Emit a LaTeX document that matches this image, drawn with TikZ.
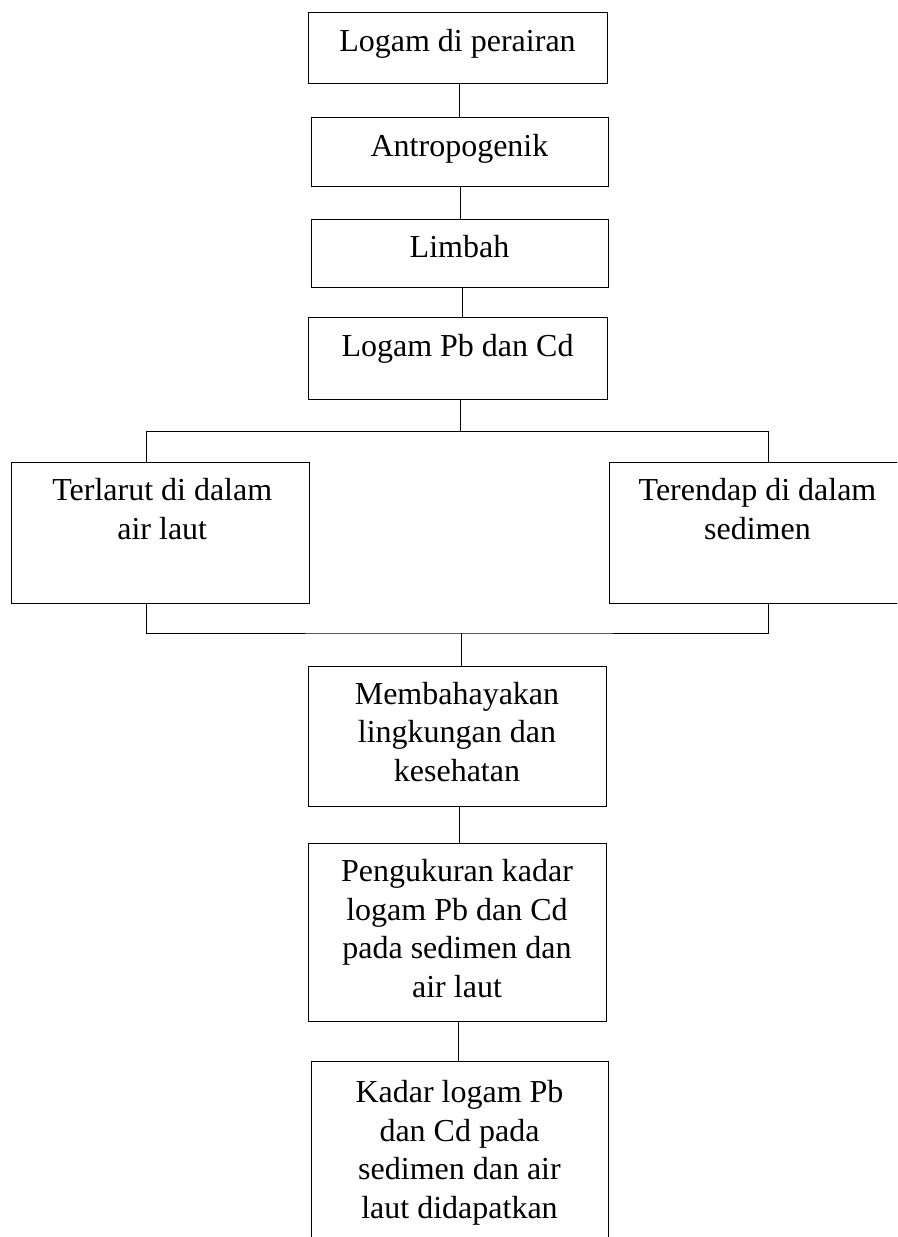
\documentclass[tikz,border=0pt]{standalone}
\usepackage{fontspec}
\setmainfont{Liberation Serif}
\begin{document}
\begin{tikzpicture}[x=1pt,y=1pt,
  box/.style={draw, line width=1pt, inner sep=0pt},
  txt/.style={anchor=north, inner sep=0pt, align=center, font=\fontsize{32}{38.5}\selectfont},
  conn/.style={line width=1pt}]
\clip (0,0) rectangle (897,-1237);
\fill[white] (0,0) rectangle (897,-1237);
% boxes
\node[box, minimum width=299pt, minimum height=71pt] (b1) at (457.5,-47.5) {};
\node[box, minimum width=297pt, minimum height=69pt] (b2) at (459.5,-151.5) {};
\node[box, minimum width=297pt, minimum height=68pt] (b3) at (459.5,-253) {};
\node[box, minimum width=299pt, minimum height=82pt] (b4) at (457.5,-358) {};
\node[box, minimum width=298.5pt, minimum height=141pt] (bl) at (160.25,-532.5) {};
\node[box, minimum width=297pt, minimum height=141pt] (br) at (757.5,-532.5) {};
\node[box, minimum width=298pt, minimum height=140pt] (b5) at (457,-736) {};
\node[box, minimum width=298pt, minimum height=178pt] (b6) at (457,-932) {};
\node[box, minimum width=297pt, minimum height=189pt] (b7) at (459.5,-1155.5) {};
% texts
\node[txt] (t1) at ([yshift=-17.5pt]b1.north) {Logam di perairan};
\node[txt] (t2) at ([yshift=-18pt]b2.north) {Antropogenik};
\node[txt] (t3) at ([yshift=-17pt]b3.north) {Limbah};
\node[txt] (t4) at ([yshift=-18pt]b4.north) {Logam Pb dan Cd};
\node[txt] (tl) at ([xshift=2pt,yshift=-17pt]bl.north) {Terlarut di dalam\\air laut};
\node[txt] (tr) at ([yshift=-17pt]br.north) {Terendap di dalam\\sedimen};
\node[txt] (t5) at ([yshift=-16.5pt]b5.north) {Membahayakan\\lingkungan dan\\kesehatan};
\node[txt] (t6) at ([yshift=-17pt]b6.north) {Pengukuran kadar\\logam Pb dan Cd\\pada sedimen dan\\air laut};
\node[txt] (t7) at ([yshift=-20pt]b7.north) {Kadar logam Pb\\dan Cd pada\\sedimen dan air\\laut didapatkan};
% connectors
\draw[conn] ([xshift=2pt]b1.south) -- ([xshift=2pt]b1.south |- b2.north);
\draw[conn] ([xshift=1pt]b2.south) -- ([xshift=1pt]b2.south |- b3.north);
\draw[conn] ([xshift=3pt]b3.south) -- ([xshift=3pt]b3.south |- b4.north);
\draw[conn] ([xshift=3pt]b4.south) -- ++(0,-32) coordinate (jt);
\draw[conn] ([xshift=-14pt]bl.north) |- (jt) -| ([xshift=10.5pt]br.north);
\coordinate (jb) at (461,-633);
\draw[conn] ([xshift=-14pt]bl.south) |- (jb) -| ([xshift=10.5pt]br.south);
\draw[conn] (jb) -- (jb |- b5.north);
\draw[conn] ([xshift=2pt]b5.south) -- ([xshift=2pt]b5.south |- b6.north);
\draw[conn] ([xshift=1pt]b6.south) -- ([xshift=1pt]b6.south |- b7.north);
\end{tikzpicture}
\end{document}
